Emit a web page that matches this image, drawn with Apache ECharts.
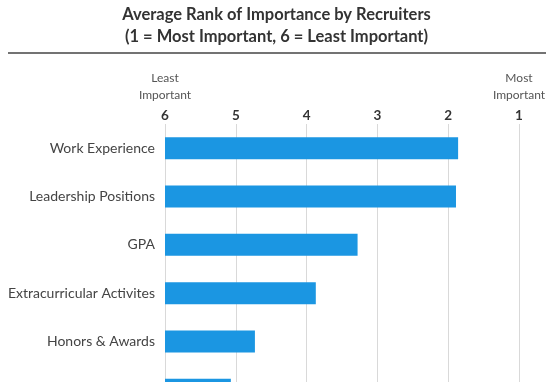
<!DOCTYPE html>
<html>
<head>
<meta charset="utf-8">
<script src="https://cdn.jsdelivr.net/npm/echarts@6/dist/echarts.min.js"></script>
<style>html,body{margin:0;padding:0;background:#fff}#c{width:553px;height:382px}</style>
</head>
<body>
<div id="c"></div>
<script>
const categories = ["Work Experience", "Leadership Positions", "GPA", "Extracurricular Activites", "Honors & Awards", "Volunteer Work"];
const avgRank = [1.86, 1.89, 3.28, 3.87, 4.73, 5.07];
const tickValues = [6, 5, 4, 3, 2, 1];
const titleText = "Average Rank of Importance by Recruiters";
const subtitleText = "(1 = Most Important, 6 = Least Important)";

const chart = echarts.init(document.getElementById('c'));
const FONT = 'Lato';
chart.setOption({
  backgroundColor: '#fff',
  animation: false,
  title: {
    text: titleText + "\n" + subtitleText,
    left: 'center',
    top: 4,
    padding: 0,
    textStyle: { fontFamily: FONT, fontSize: 16.5, fontWeight: 'bold', color: '#333', lineHeight: 22 }
  },
  graphic: [
    { type: 'line', shape: { x1: 8, y1: 53, x2: 546, y2: 53 }, style: { stroke: '#444', lineWidth: 1.5 } },
    { type: 'text', x: 165, y: 87, style: { text: 'Least\nImportant', align: 'center', verticalAlign: 'middle', fontFamily: FONT, fontSize: 12, fill: '#555', lineHeight: 17 } },
    { type: 'text', x: 519, y: 87, style: { text: 'Most\nImportant', align: 'center', verticalAlign: 'middle', fontFamily: FONT, fontSize: 12, fill: '#555', lineHeight: 17 } }
  ],
  grid: { left: 165, right: 34, top: 124, height: 290, outerBoundsMode: 'none', containLabel: false },
  xAxis: {
    type: 'value',
    position: 'top',
    inverse: true,
    min: 1,
    max: 6,
    interval: 1,
    startValue: 6,
    axisLine: { show: false },
    axisTick: { show: false },
    axisLabel: {
      margin: 1,
      fontFamily: FONT, fontSize: 13.5, fontWeight: 'bold', color: '#333',
      formatter: v => tickValues.includes(v) ? String(v) : ''
    },
    splitLine: { show: true, lineStyle: { color: '#d9d9d9', width: 1 } }
  },
  yAxis: {
    type: 'category',
    data: categories,
    inverse: true,
    axisLine: { show: false },
    axisTick: { show: false },
    axisLabel: { margin: 10, fontFamily: FONT, fontSize: 14, color: '#444' }
  },
  series: [{
    type: 'bar',
    data: avgRank,
    barWidth: 22,
    itemStyle: { color: '#1b96e2' }
  }]
});
</script>
</body>
</html>
